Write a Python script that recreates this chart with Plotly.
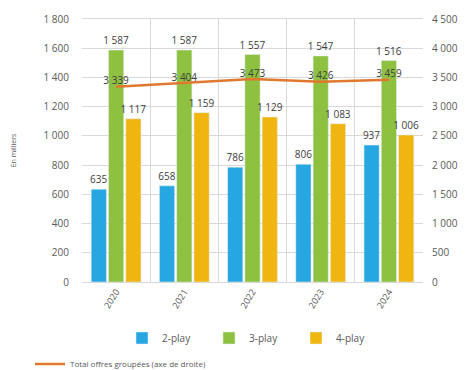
import plotly.graph_objects as go

years = ["2020", "2021", "2022", "2023", "2024"]
play2 = [635, 658, 786, 806, 937]
play3 = [1587, 1587, 1557, 1547, 1516]
play4 = [1117, 1159, 1129, 1083, 1006]
total = [3339, 3404, 3473, 3426, 3459]

left_ticks = list(range(0, 1801, 200))
right_ticks = list(range(0, 4501, 500))

FONT = "Open Sans"
TXT = "#404040"

fig = go.Figure()
for name, vals, col in [("2-play", play2, "#27a7e1"), ("3-play", play3, "#8dc13f"), ("4-play", play4, "#f0b50f")]:
    fig.add_trace(go.Bar(
        x=years, y=vals, name=name, marker_color=col,
        text=vals, texttemplate="%{y:,}", textposition="outside",
        constraintext="none",
        textfont=dict(size=10, color=TXT, family=FONT), cliponaxis=False,
        legend="legend",
    ))

fig.add_trace(go.Scatter(
    x=years, y=total, name="Total offres groupées (axe de droite)", yaxis="y2",
    mode="lines+text", line=dict(color="#e0782f", width=2.5),
    text=total, texttemplate="%{y:,}", textposition="top center",
    textfont=dict(size=10, color=TXT, family=FONT), cliponaxis=False,
    legend="legend2",
))

fig.update_layout(
    width=473, height=370,
    margin=dict(l=82, r=50, t=19, b=88, autoexpand=False),
    paper_bgcolor="white", plot_bgcolor="white",
    separators=", ",
    font=dict(family=FONT, size=10, color="#595959"),
    barmode="group", bargap=0.24, bargroupgap=0.12,
    xaxis=dict(type="category", tickangle=-58, tickson="boundaries", ticklen=0,
               showgrid=True, gridcolor="#d9d9d9", gridwidth=1,
               showline=True, linecolor="#d9d9d9", mirror=True,
               tickfont=dict(size=9), automargin=False),
    yaxis=dict(range=[0, 1800], tickvals=left_ticks, tickformat=",",
               showgrid=True, gridcolor="#d9d9d9", zeroline=False,
               ticks="", ticklabelstandoff=12, automargin=False,
               title=dict(text="En milliers", font=dict(size=7), standoff=26)),
    yaxis2=dict(range=[0, 4500], tickvals=right_ticks, tickformat=",",
                overlaying="y", side="right", showgrid=False, zeroline=False,
                ticks="", ticklabelstandoff=8, automargin=False),
    legend=dict(orientation="h", x=122 / 473, xanchor="left", y=1 - 338 / 370, yanchor="middle",
                yref="container", xref="container",
                font=dict(size=10), itemwidth=30, traceorder="normal",
                entrywidth=42, entrywidthmode="pixels"),
    legend2=dict(orientation="h", x=30 / 473, xanchor="left", y=1 - 364 / 370, yanchor="middle",
                 yref="container", xref="container",
                 font=dict(size=8), itemwidth=30),
)

fig.write_html("out.html")
